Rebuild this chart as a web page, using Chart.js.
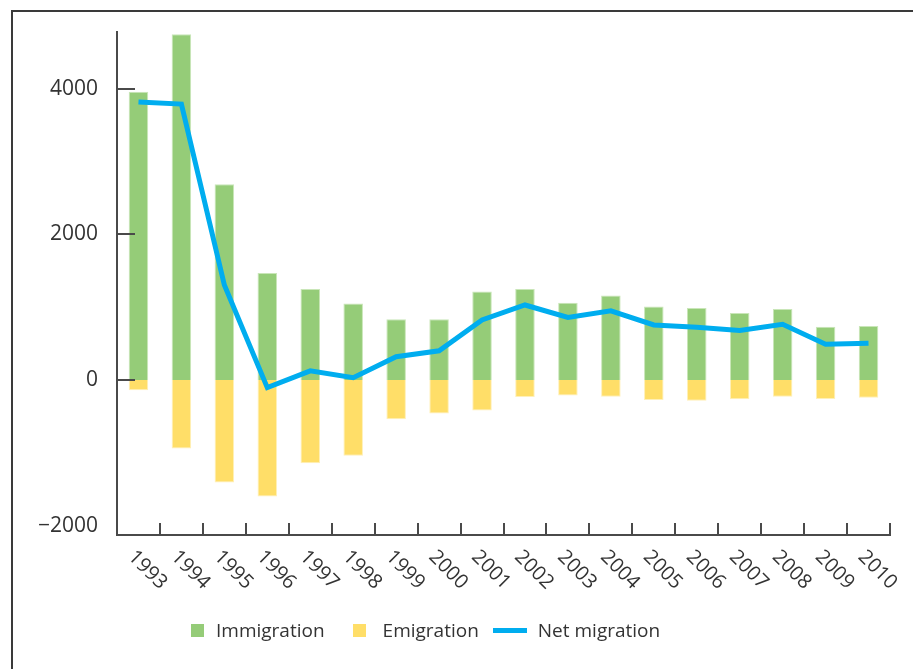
<!DOCTYPE html>
<html>
<head>
<meta charset="utf-8">
<script src="https://cdn.jsdelivr.net/npm/chart.js@4/dist/chart.umd.min.js"></script>
<style>
  body { margin: 0; background: #fff; }
  #wrap { position: relative; width: 913px; height: 669px; overflow: hidden; font-family: "Open Sans", sans-serif; }
  #frame { position: absolute; left: 11px; top: 10px; right: -5px; bottom: -5px; border-left: 2px solid #3a3a3a; border-top: 2px solid #3a3a3a; }
  #migrationChart { position: absolute; left: 0; top: 0; }
  #legend { position: absolute; left: 191px; top: 617px; display: flex; align-items: center; color: #333; font-size: 19px; }
  .item { display: flex; align-items: center; }
  .item.first { margin-right: 28px; }
  .item.second { margin-right: 14px; }
  .swatch { width: 13px; height: 13px; margin-right: 12px; }
  .item.second .swatch { margin-right: 17px; }
  .swatch.line { width: 34px; height: 5px; margin-right: 11px; }
</style>
</head>
<body>
<div id="wrap">
  <div id="frame"></div>
  <canvas id="migrationChart" width="913" height="669"></canvas>
  <div id="legend"></div>
</div>
<script>
const years = ["1993", "1994", "1995", "1996", "1997", "1998", "1999", "2000", "2001",
  "2002", "2003", "2004", "2005", "2006", "2007", "2008", "2009", "2010"];
const immigration = [3960, 4750, 2690, 1470, 1250, 1050, 835, 835, 1215,
  1250, 1060, 1160, 1010, 990, 920, 975, 730, 740];
const emigration = [-140, -940, -1410, -1600, -1145, -1040, -540, -460, -420,
  -235, -215, -230, -275, -285, -265, -230, -260, -245];
const netMigration = [3820, 3790, 1305, -105, 125, 30, 320, 400, 825,
  1030, 860, 950, 755, 725, 680, 765, 490, 505];
const yTicks = [-2000, 0, 2000, 4000];
const yTickMarks = [0, 2000, 4000];

const GREEN = "#95cc78";
const YELLOW = "#ffde68";
const BLUE = "#00adef";
const AXIS = "#4a4a4a";
const TEXT = "#333";
const FONT = '"Open Sans", sans-serif';

// tick marks inside the plot + rotated year labels
const axisMarks = {
  id: "axisMarks",
  afterDraw(chart) {
    const { ctx, chartArea, scales } = chart;
    const x = scales.x;
    const y = scales.y;
    ctx.save();
    ctx.strokeStyle = AXIS;
    ctx.lineWidth = 2;
    ctx.beginPath();
    yTickMarks.forEach((v) => {
      const py = Math.round(y.getPixelForValue(v));
      ctx.moveTo(chartArea.left, py);
      ctx.lineTo(chartArea.left + 18, py);
    });
    for (let k = 1; k <= years.length; k++) {
      const px = Math.round(x.getPixelForValue(k - 0.5));
      ctx.moveTo(px, chartArea.bottom);
      ctx.lineTo(px, chartArea.bottom - 12);
    }
    ctx.stroke();

    ctx.fillStyle = TEXT;
    ctx.font = "20px " + FONT;
    ctx.textAlign = "center";
    ctx.textBaseline = "middle";
    years.forEach((label, i) => {
      ctx.save();
      ctx.translate(x.getPixelForValue(i) + 9, chartArea.bottom + 35);
      ctx.rotate(Math.PI / 4);
      ctx.fillText(label, 0, 0);
      ctx.restore();
    });
    ctx.restore();
  }
};

const chart = new Chart(document.getElementById("migrationChart"), {
  data: {
    labels: years,
    datasets: [
      {
        type: "line",
        label: "Net migration",
        data: netMigration,
        borderColor: BLUE,
        borderWidth: 5,
        pointRadius: 0,
        tension: 0,
        order: 0
      },
      {
        type: "bar",
        label: "Immigration",
        data: immigration,
        backgroundColor: GREEN,
        borderColor: "#c9e6b8",
        borderWidth: 1,
        grouped: false,
        barPercentage: 0.455,
        categoryPercentage: 1,
        order: 1
      },
      {
        type: "bar",
        label: "Emigration",
        data: emigration,
        backgroundColor: YELLOW,
        borderColor: "#fff0b8",
        borderWidth: 1,
        grouped: false,
        barPercentage: 0.455,
        categoryPercentage: 1,
        order: 1
      }
    ]
  },
  options: {
    responsive: false,
    animation: false,
    layout: { padding: { left: 0, right: 23, top: 32, bottom: 0 } },
    plugins: {
      legend: { display: false },
      tooltip: { enabled: false }
    },
    scales: {
      x: {
        offset: true,
        grid: { display: false },
        border: { display: true, color: AXIS, width: 2 },
        ticks: { display: false },
        afterFit: (scale) => { scale.height = 669 - 535; }
      },
      y: {
        min: -2130,
        max: 4780,
        grid: { display: false, drawTicks: false },
        border: { display: true, color: AXIS, width: 2 },
        afterBuildTicks: (scale) => { scale.ticks = yTicks.map((v) => ({ value: v })); },
        ticks: {
          padding: 19,
          color: TEXT,
          font: { family: FONT, size: 21 },
          callback: (v) => String(v).replace("-", "\u2212")
        },
        afterFit: (scale) => { scale.width = 117; }
      }
    }
  },
  plugins: [axisMarks]
});

// html legend
const legend = document.getElementById("legend");
[
  { label: "Immigration", color: GREEN, line: false, cls: "first" },
  { label: "Emigration", color: YELLOW, line: false, cls: "second" },
  { label: "Net migration", color: BLUE, line: true, cls: "third" }
].forEach((it) => {
  const item = document.createElement("div");
  item.className = "item " + it.cls;
  const sw = document.createElement("span");
  sw.className = it.line ? "swatch line" : "swatch";
  sw.style.background = it.color;
  const txt = document.createElement("span");
  txt.textContent = it.label;
  item.append(sw, txt);
  legend.appendChild(item);
});
</script>
</body>
</html>
